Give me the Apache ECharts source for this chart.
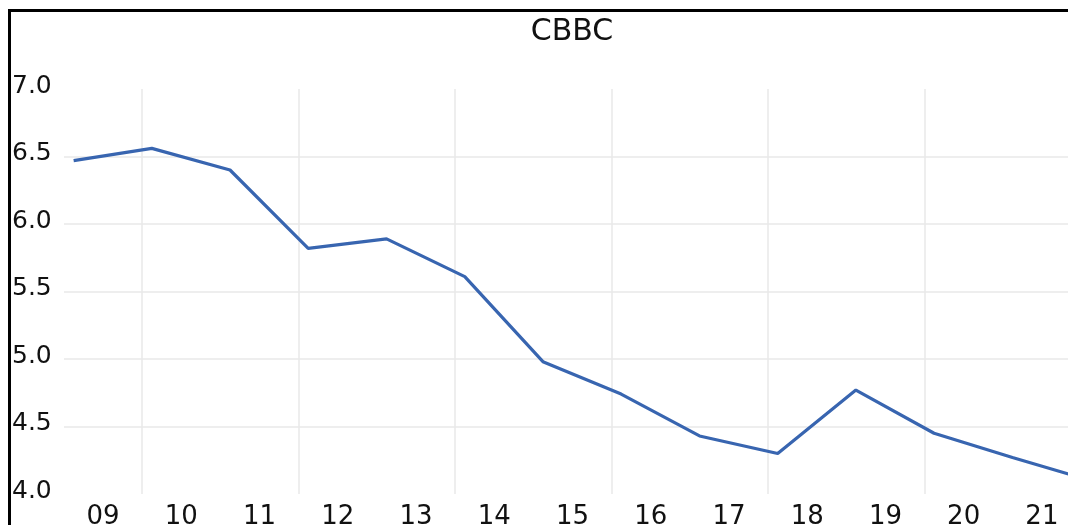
<!DOCTYPE html>
<html>
<head>
<meta charset="utf-8">
<script src="https://cdn.jsdelivr.net/npm/echarts@6/dist/echarts.min.js"></script>
<style>
  html, body { margin: 0; padding: 0; background: #fff; }
  #chart { width: 1068px; height: 525px; }
</style>
</head>
<body>
<div id="chart"></div>
<script>
// year labels on the x axis
const years = ['09', '10', '11', '12', '13', '14', '15', '16', '17', '18', '19', '20', '21']
// dates of the readings (one per year, early in the year)
const readingDates = ['2009-02-15', '2010-02-15', '2011-02-15', '2012-02-15', '2013-02-15', '2014-02-15',
  '2015-02-15', '2016-02-15', '2017-02-15', '2018-02-15', '2019-02-15', '2020-02-15', '2021-02-15', '2022-02-15']
const cbbc = [6.47, 6.56, 6.40, 5.82, 5.89, 5.61, 4.98, 4.74, 4.43, 4.30, 4.77, 4.45, 4.27, 4.10]

const fontFamily = 'DejaVu Sans'

const chart = echarts.init(document.getElementById('chart'))

chart.setOption({
  animation: false,
  title: {
    text: 'CBBC',
    left: 572,
    top: 17,
    padding: 0,
    textAlign: 'center',
    textStyle: { fontFamily, fontSize: 30, fontWeight: 'normal', color: '#111' }
  },
  grid: {
    left: 64,
    width: 1017,
    top: 89,
    bottom: 31,
    outerBoundsMode: 'none'
  },
  xAxis: [{
    type: 'category',
    data: years,
    boundaryGap: true,
    axisLine: { show: false },
    axisTick: { show: false },
    axisLabel: { fontFamily, fontSize: 26, color: '#111', margin: 10, interval: 0 },
    splitLine: {
      show: true,
      interval: (i) => i % 2 === 1,
      lineStyle: { color: '#e8e8e8', width: 1.5 }
    }
  }, {
    type: 'time',
    show: false,
    min: '2009-01-01',
    max: '2022-01-01'
  }],
  yAxis: {
    type: 'value',
    min: 4,
    max: 7,
    interval: 0.5,
    axisLine: { show: false },
    axisTick: { show: false },
    axisLabel: {
      fontFamily,
      fontSize: 25,
      color: '#111',
      align: 'left',
      verticalAlign: 'bottom',
      lineHeight: 6,
      margin: 52,
      formatter: (v) => v.toFixed(1)
    },
    splitLine: {
      show: true,
      showMinLine: false,
      showMaxLine: false,
      lineStyle: { color: '#e8e8e8', width: 1.5 }
    }
  },
  graphic: [{
    type: 'rect',
    shape: { x: 9.5, y: 10.5, width: 2000, height: 2000 },
    style: { fill: 'none', stroke: '#000', lineWidth: 3 },
    silent: true,
    z: 10
  }],
  series: [{
    name: 'CBBC',
    type: 'line',
    xAxisIndex: 1,
    showSymbol: false,
    data: readingDates.map((d, i) => [d, cbbc[i]]),
    lineStyle: { color: '#3865b0', width: 3.2 },
    itemStyle: { color: '#3865b0' }
  }]
})
</script>
</body>
</html>
